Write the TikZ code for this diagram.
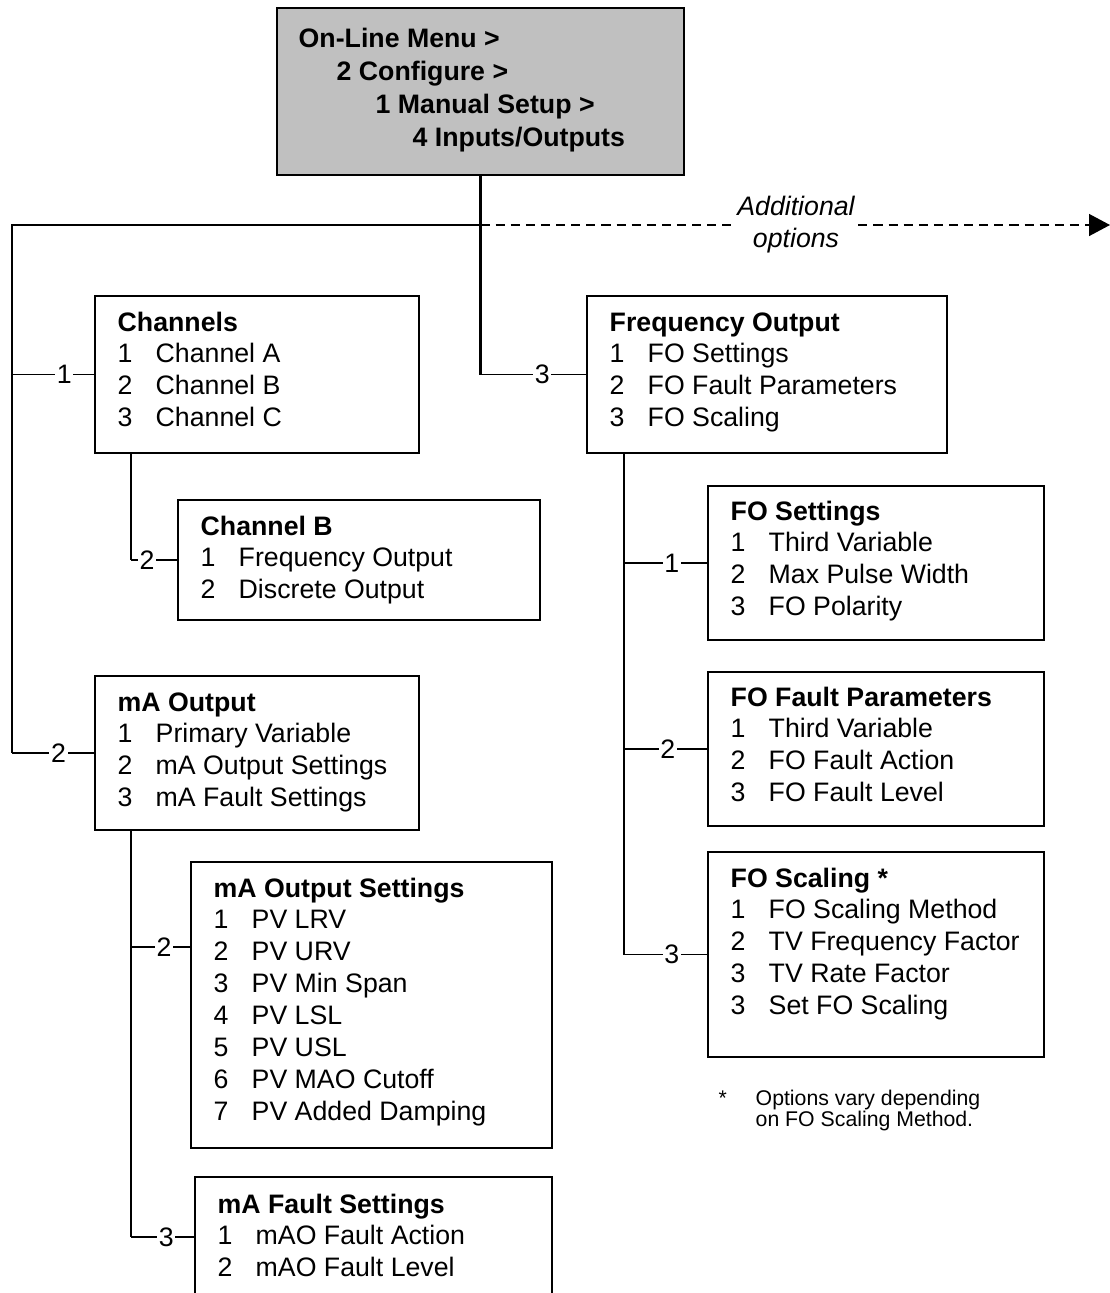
\documentclass[tikz,border=0pt]{standalone}
\usepackage{fontspec}
\setmainfont{Liberation Sans}
\usetikzlibrary{arrows.meta}
\definecolor{menugray}{RGB}{192,192,192}
\newcommand\mlist[1]{\parbox[t]{8cm}{\raggedright#1}}
\newcommand\mitem[2]{\makebox[0.76cm][l]{#1}#2}

\begin{document}
\begin{tikzpicture}[x=1cm,y=1cm,line width=.8pt,font=\fontsize{15.2}{18.2}\selectfont,
  menubox/.style={draw,anchor=north west,inner sep=0,outer sep=0},
  menutxt/.style={anchor=base west,inner sep=0},
  numlbl/.style={fill=white,inner sep=1pt},
  trunk/.style={line width=1.3pt}]
  \useasboundingbox (0,0) rectangle (22.2,-25.86);
  % boxes
  \node[menubox,fill=menugray,minimum width=8.14cm,minimum height=3.34cm] (root) at (5.54,-.16) {};
  \node[menubox,minimum width=6.48cm,minimum height=3.14cm] (ch) at (1.90,-5.92) {};
  \node[menubox,minimum width=7.24cm,minimum height=2.40cm] (chb) at (3.56,-10.00) {};
  \node[menubox,minimum width=6.48cm,minimum height=3.08cm] (mao) at (1.90,-13.52) {};
  \node[menubox,minimum width=7.22cm,minimum height=5.72cm] (maos) at (3.82,-17.24) {};
  \node[menubox,minimum width=7.14cm,minimum height=2.40cm] (mafs) at (3.90,-23.54) {};
  \node[menubox,minimum width=7.20cm,minimum height=3.14cm] (fo) at (11.74,-5.92) {};
  \node[menubox,minimum width=6.72cm,minimum height=3.08cm] (fos) at (14.16,-9.72) {};
  \node[menubox,minimum width=6.72cm,minimum height=3.08cm] (fof) at (14.16,-13.44) {};
  \node[menubox,minimum width=6.72cm,minimum height=4.10cm] (fosc) at (14.16,-17.04) {};
  % texts
  \node[menutxt,font=\fontsize{15.2}{18.8}\selectfont\bfseries] (root-t) at ([shift={(.42,-.78)}]root.north west)
    {\mlist{On-Line Menu >\\\hspace*{.76cm}2 Configure >\\\hspace*{1.54cm}1 Manual Setup >\\\hspace*{2.28cm}4 Inputs/Outputs}};
  \node[menutxt] (ch-t) at ([shift={(.44,-.70)}]ch.north west)
    {\mlist{\textbf{Channels}\\\mitem1{Channel A}\\\mitem2{Channel B}\\\mitem3{Channel C}}};
  \node[menutxt] (chb-t) at ([shift={(.44,-.70)}]chb.north west)
    {\mlist{\textbf{Channel B}\\\mitem1{Frequency Output}\\\mitem2{Discrete Output}}};
  \node[menutxt] (mao-t) at ([shift={(.44,-.70)}]mao.north west)
    {\mlist{\textbf{mA Output}\\\mitem1{Primary Variable}\\\mitem2{mA Output Settings}\\\mitem3{mA Fault Settings}}};
  \node[menutxt] (maos-t) at ([shift={(.44,-.70)}]maos.north west)
    {\mlist{\textbf{mA Output Settings}\\\mitem1{PV LRV}\\\mitem2{PV URV}\\\mitem3{PV Min Span}\\\mitem4{PV LSL}\\\mitem5{PV USL}\\\mitem6{PV MAO Cutoff}\\\mitem7{PV Added Damping}}};
  \node[menutxt] (mafs-t) at ([shift={(.44,-.72)}]mafs.north west)
    {\mlist{\textbf{mA Fault Settings}\\\mitem1{mAO Fault Action}\\\mitem2{mAO Fault Level}}};
  \node[menutxt] (fo-t) at ([shift={(.44,-.70)}]fo.north west)
    {\mlist{\textbf{Frequency Output}\\\mitem1{FO Settings}\\\mitem2{FO Fault Parameters}\\\mitem3{FO Scaling}}};
  \node[menutxt] (fos-t) at ([shift={(.44,-.68)}]fos.north west)
    {\mlist{\textbf{FO Settings}\\\mitem1{Third Variable}\\\mitem2{Max Pulse Width}\\\mitem3{FO Polarity}}};
  \node[menutxt] (fof-t) at ([shift={(.44,-.68)}]fof.north west)
    {\mlist{\textbf{FO Fault Parameters}\\\mitem1{Third Variable}\\\mitem2{FO Fault Action}\\\mitem3{FO Fault Level}}};
  \node[menutxt] (fosc-t) at ([shift={(.44,-.70)}]fosc.north west)
    {\mlist{\textbf{FO Scaling *}\\\mitem1{FO Scaling Method}\\\mitem2{TV Frequency Factor}\\\mitem3{TV Rate Factor}\\\mitem3{Set FO Scaling}}};
  \node[menutxt,font=\fontsize{12.1}{12.5}\selectfont] (foot-star) at (14.36,-22.10) {*};
  \node[menutxt,font=\fontsize{12.1}{12.5}\selectfont] (foot-t) at (15.10,-22.10)
    {\mlist{Options vary depending\\on FO Scaling Method.}};
  % connectors
  \coordinate (bus) at (.24,-4.50);
  \coordinate (more) at (22.2,-4.50);
  \coordinate (mat) at ([xshift=.72cm]mao.south west);
  \coordinate (maos-in) at ([yshift=-1.70cm]maos.north west);
  \coordinate (fot) at ([xshift=.74cm]fo.south west);
  \draw[trunk] (root.south) -- (root.south |- fo.west);
  \draw[trunk] (root.south |- bus) -- (bus) -- (bus |- mao.west);
  \draw[trunk] ([xshift=.72cm]ch.south west) -- ([xshift=.72cm]ch.south west |- chb.west);
  \draw[trunk] (mat) -- (mat |- mafs.west);
  \draw[trunk] (fot) -- (fot |- fosc.west);
  \draw (root.south |- fo.west) -- node[numlbl,pos=.58]{3} (fo.west);
  \draw (bus |- ch.west) -- node[numlbl,pos=.63]{1} (ch.west);
  \draw (bus |- mao.west) -- node[numlbl,pos=.56]{2} (mao.west);
  \draw ([xshift=.72cm]ch.south west |- chb.west) -- node[numlbl,pos=.34]{2} (chb.west);
  \draw (mat |- maos-in) -- node[numlbl,pos=.55]{2} (maos-in);
  \draw (mat |- mafs.west) -- node[numlbl,pos=.55]{3} (mafs.west);
  \draw (fot |- fos.west) -- node[numlbl,pos=.57]{1} (fos.west);
  \draw (fot |- fof.west) -- node[numlbl,pos=.52]{2} (fof.west);
  \draw (fot |- fosc.west) -- node[numlbl,pos=.57]{3} (fosc.west);
  \draw[dash pattern=on 5.2pt off 3.4pt,-{Triangle[length=.42cm,width=.44cm]}] (root.south |- bus) -- (more);
  \node[fill=white,inner sep=0,align=center,font=\fontsize{15.2}{18.2}\selectfont\itshape] (more-t) at (15.92,-4.50) {Additional\\options};
\end{tikzpicture}
\end{document}
